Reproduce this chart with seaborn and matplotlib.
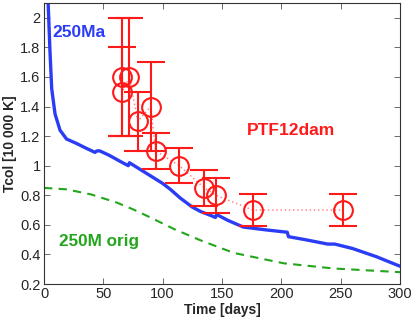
import numpy as np
import pandas as pd
import matplotlib
matplotlib.use("Agg")
import matplotlib.pyplot as plt
import seaborn as sns
from matplotlib.ticker import FuncFormatter

# model curves
t_250ma = [3.4, 5, 6.5, 9.3, 13.5, 19, 27.5, 35, 43, 44.5, 47, 55, 64, 71, 72, 80, 90, 100,
           106.5, 115, 125, 132, 140, 144.5, 145.5, 155, 168, 188, 205, 206, 220, 239, 245,
           260, 280, 300]
tcol_250ma = [2.12, 1.78, 1.52, 1.35, 1.24, 1.18, 1.15, 1.12, 1.09, 1.10, 1.10, 1.07, 1.03,
              1.0, 1.02, 0.98, 0.93, 0.88, 0.84, 0.78, 0.72, 0.69, 0.665, 0.65, 0.67, 0.63,
              0.585, 0.565, 0.55, 0.52, 0.50, 0.47, 0.47, 0.44, 0.385, 0.32]

t_orig = [0, 19, 40, 61.5, 75, 89.6, 110, 132, 160, 202, 244, 300]
tcol_orig = [0.85, 0.84, 0.805, 0.75, 0.705, 0.65, 0.57, 0.495, 0.41, 0.34, 0.305, 0.28]

# PTF12dam observations
t_obs = [66, 66, 72, 79, 90, 94, 114, 135, 145, 176, 252]
tcol_obs = [1.6, 1.5, 1.6, 1.3, 1.4, 1.1, 1.0, 0.85, 0.8, 0.7, 0.7]
err_obs = [0.4, 0.3, 0.4, 0.2, 0.3, 0.12, 0.12, 0.12, 0.12, 0.11, 0.11]

blue = '#2b3cf5'
green = '#23a51c'
red = '#ff1a1a'

sns.set_style("ticks")
plt.rcParams['font.family'] = ['Liberation Sans', 'DejaVu Sans']

fig = plt.figure(figsize=(4.15, 3.19), dpi=100)
ax = fig.add_axes([44 / 415, 1 - 284 / 319, 356 / 415, 281 / 319])

df_a = pd.DataFrame({'t': t_250ma, 'T': tcol_250ma})
df_o = pd.DataFrame({'t': t_orig, 'T': tcol_orig})
sns.lineplot(data=df_a, x='t', y='T', ax=ax, color=blue, lw=2.4, sort=False, estimator=None)
sns.lineplot(data=df_o, x='t', y='T', ax=ax, color=green, lw=1.5, sort=False,
             estimator=None, linestyle=(0, (4, 3)))

# dotted connecting line between observations
sns.lineplot(x=t_obs, y=tcol_obs, ax=ax, color=red, lw=1.0, sort=False, estimator=None,
             linestyle=(0, (1, 2)), alpha=0.6)
ax.errorbar(t_obs, tcol_obs, yerr=err_obs, fmt='o', mfc='none', mec=red, ms=13.5, mew=1.5,
            ecolor=red, elinewidth=1.5, capsize=10, capthick=1.5)

ax.text(7, 1.9, '250Ma', color=blue, fontsize=12.5, fontweight='bold', va='center')
ax.text(208, 1.24, 'PTF12dam', color=red, fontsize=12.5, fontweight='bold', ha='center',
        va='center')
ax.text(13, 0.49, '250M orig', color=green, fontsize=12.3, fontweight='bold', va='center')

ax.set_xlim(0, 300)
ax.set_ylim(0.2, 2.1)
ax.set_xticks(np.arange(0, 301, 50))
ax.set_yticks(np.arange(0.2, 2.01, 0.2))
ax.yaxis.set_major_formatter(FuncFormatter(lambda v, p: '%g' % round(v, 1)))
ax.tick_params(direction='in', top=True, right=True, labelsize=10.5, length=4, width=0.6,
               color='#555555', pad=2.5)
for s in ax.spines.values():
    s.set_linewidth(0.8)
    s.set_color('#333333')
ax.set_xlabel('Time [days]', fontsize=10, fontweight='bold', labelpad=1)
ax.set_ylabel('Tcol [10 000 K]', fontsize=10, fontweight='bold', labelpad=2)

fig.savefig('out.png', dpi=100)
